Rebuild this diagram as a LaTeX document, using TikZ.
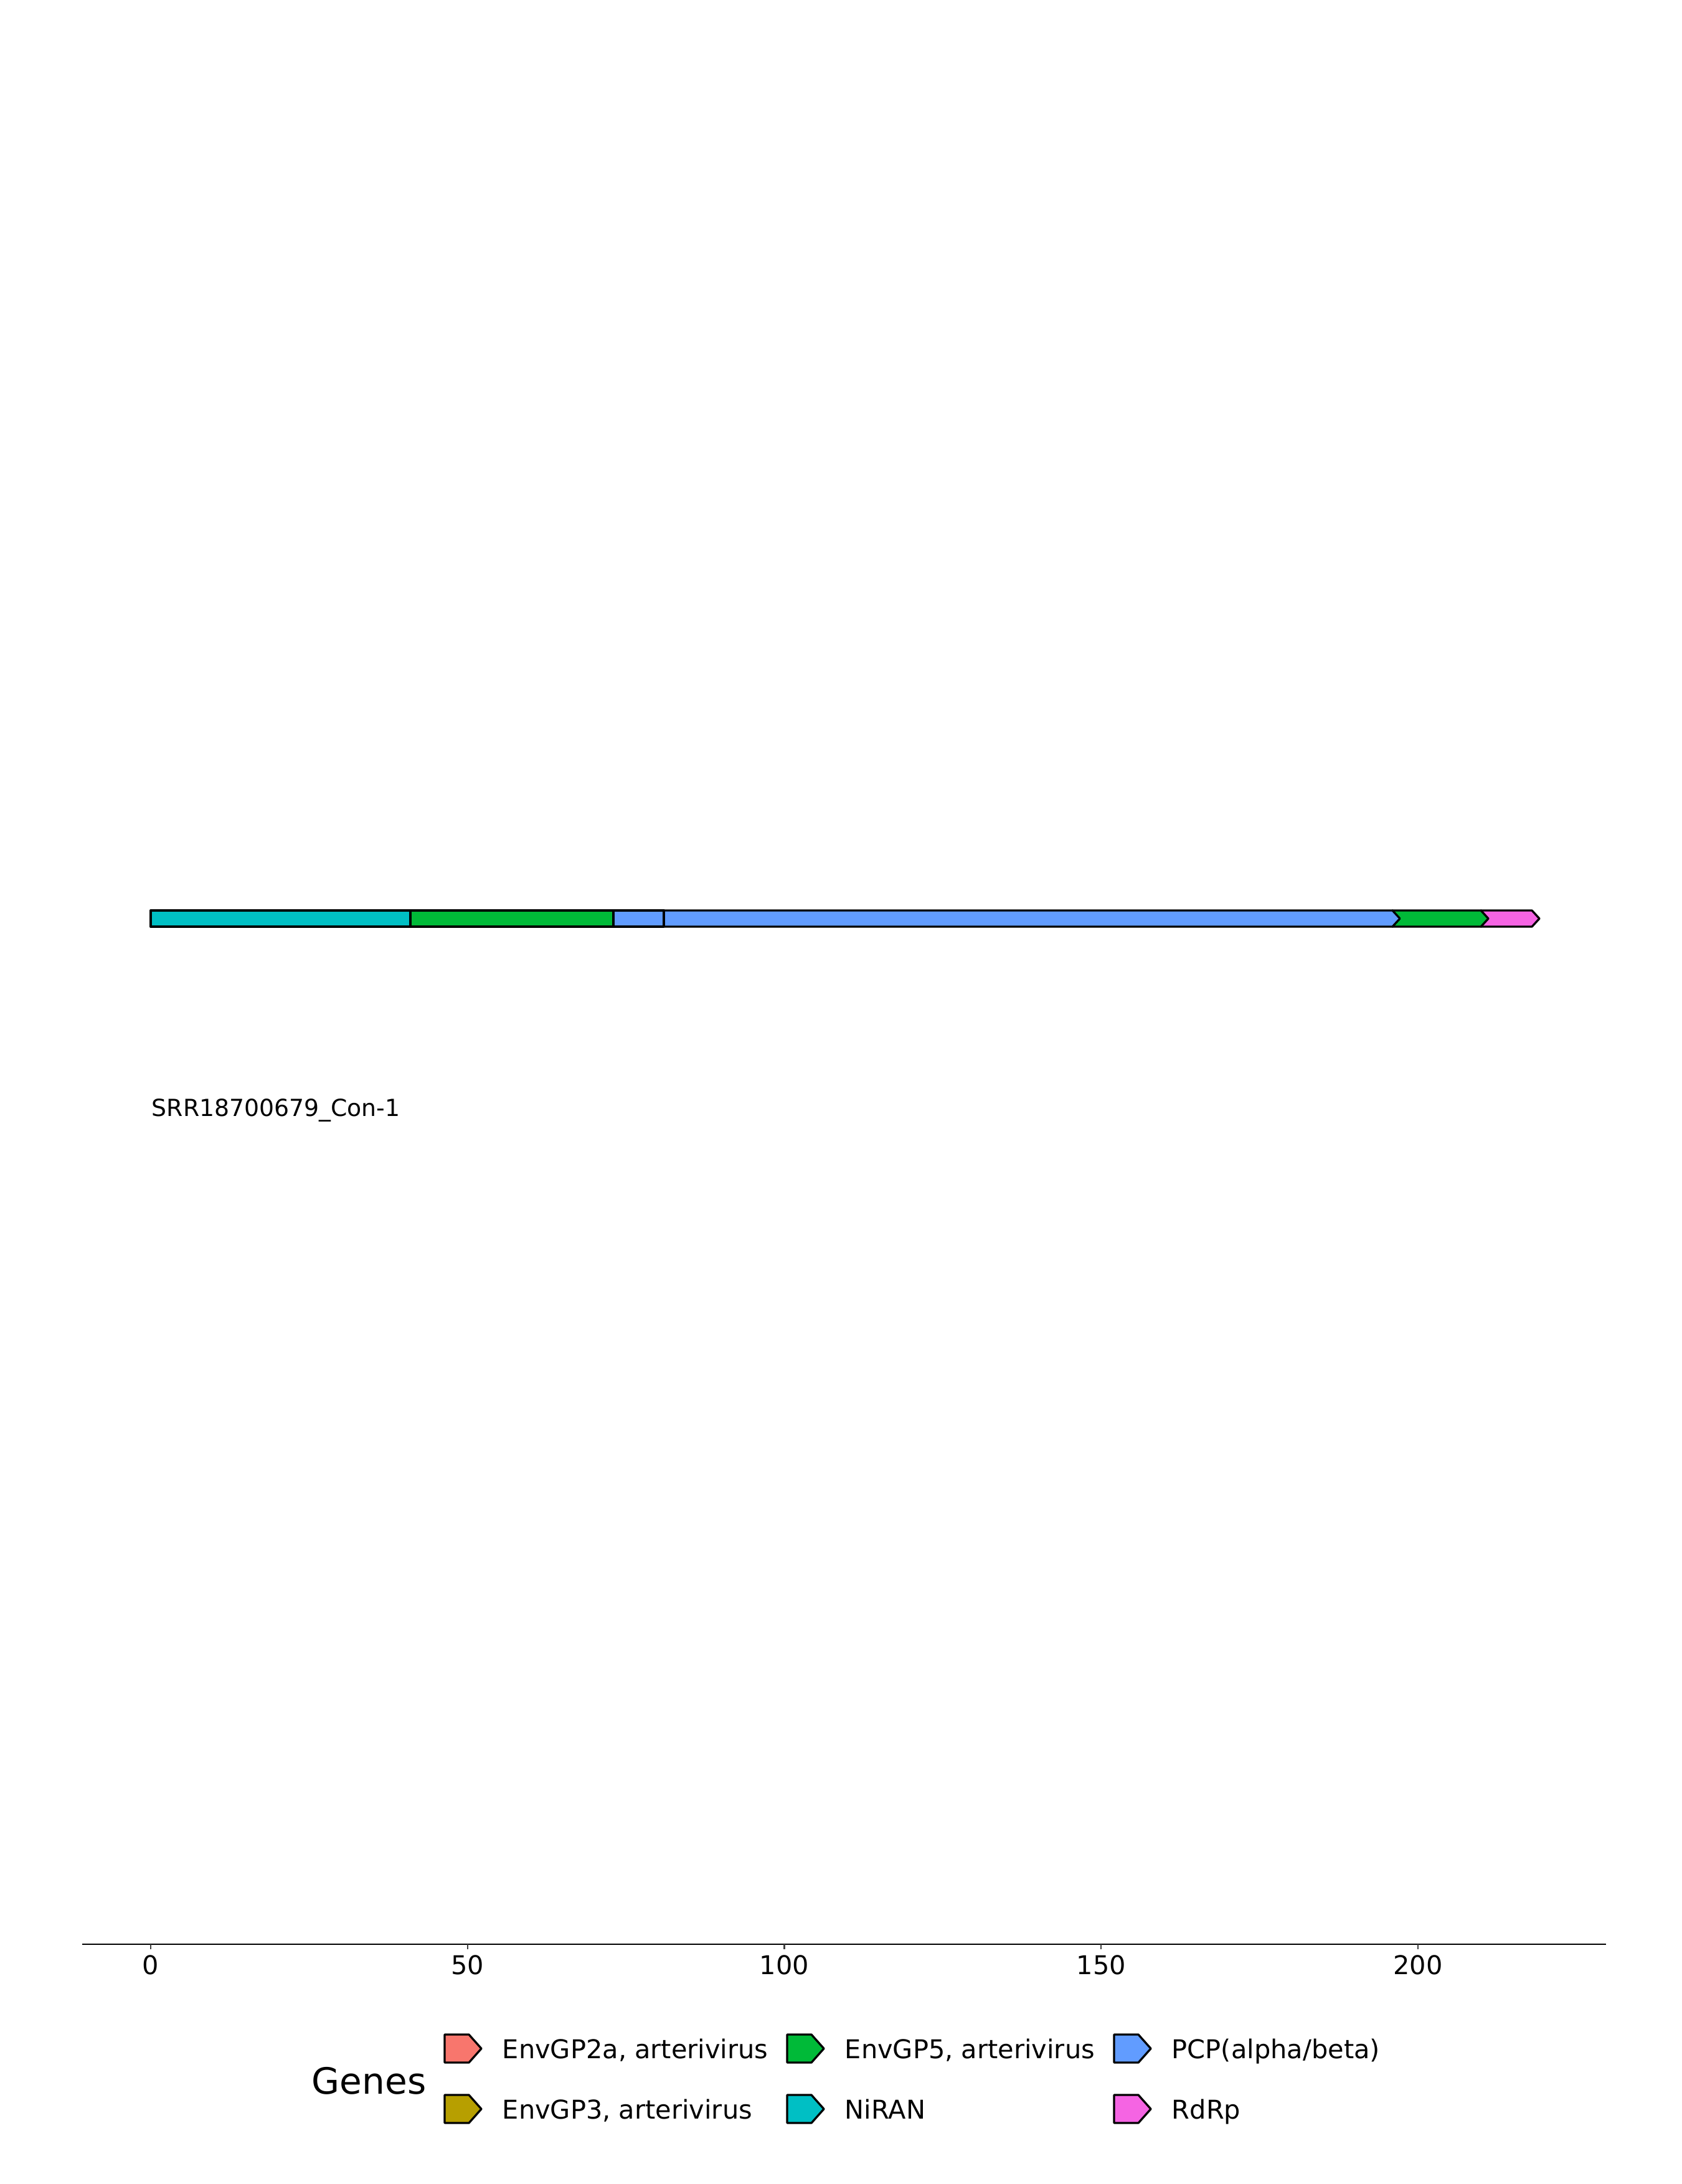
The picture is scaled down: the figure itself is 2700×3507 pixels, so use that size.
\documentclass[tikz,border=0pt]{standalone}
\usepackage{fontspec}
\setmainfont{DejaVu Sans}
\definecolor{envtwo}{HTML}{F8766D}
\definecolor{envthree}{HTML}{B79F00}
\definecolor{envfive}{HTML}{00BA38}
\definecolor{niran}{HTML}{00BFC4}
\definecolor{pcp}{HTML}{619CFF}
\definecolor{rdrp}{HTML}{F564E3}
\tikzset{
  gene/.style={draw=black, line width=0.8pt, line join=round},
  ticklab/.style={anchor=north, inner sep=0pt, font=\fontsize{10}{12}\selectfont},
  legtext/.style={anchor=base west, inner sep=0pt, font=\fontsize{10}{12}\selectfont}
}
\begin{document}
\begin{tikzpicture}[x=0.0846667mm, y=-0.0846667mm]
    \useasboundingbox (0,0) rectangle (2700,3507);
    % genes, drawn from right to left
    \draw [gene, fill=rdrp] (2378,1462) -- (2460,1462) -- (2472,1475) -- (2460,1488) -- (2378,1488) -- cycle;
    \draw [gene, fill=envfive] (2236,1462) -- (2378,1462) -- (2390,1475) -- (2378,1488) -- (2236,1488) -- cycle;
    \draw [gene, fill=pcp] (1066,1462) -- (2236,1462) -- (2248,1475) -- (2236,1488) -- (1066,1488) -- cycle;
    \draw [gene, fill=pcp] (985,1462) rectangle (1066,1488);
    \draw [gene, fill=envfive] (659,1462) rectangle (985,1488);
    \draw [gene, fill=niran] (242,1462) rectangle (659,1488);
    \node [anchor=base west, inner sep=0pt, font=\fontsize{9.1}{11}\selectfont] (contig) at (243,1792) {SRR18700679\_Con-1};
    % axis
    \draw [line width=0.6pt] (132,3122) -- (2579,3122);
    \foreach \v in {0,50,...,200} {
        \draw [line width=0.5pt, black!75] (242+\v*10.175,3122) -- (242+\v*10.175,3130);
        \node [ticklab] (tick\v) at (242+\v*10.175,3139) {\v};
    }
    % legend
    \node [anchor=base west, inner sep=0pt, font=\fontsize{14}{16}\selectfont] (genes) at (500,3362) {Genes};
    \foreach \kx/\ky/\kc/\kn/\kt in {714/3267/envtwo/a/{EnvGP2a, arterivirus},
        714/3364/envthree/b/{EnvGP3, arterivirus},
        1264/3267/envfive/c/{EnvGP5, arterivirus},
        1264/3364/niran/d/{NiRAN},
        1789/3267/pcp/e/{PCP(alpha/beta)},
        1789/3364/rdrp/f/{RdRp}} {
        \draw [gene, fill=\kc] (\kx,\ky) -- ++(39,0) -- ++(20,22.5) -- ++(-20,22.5) -- ++(-39,0) -- cycle;
        \node [legtext] (key\kn) at (\kx+92,\ky+38) {\kt};
    }
\end{tikzpicture}
\end{document}
